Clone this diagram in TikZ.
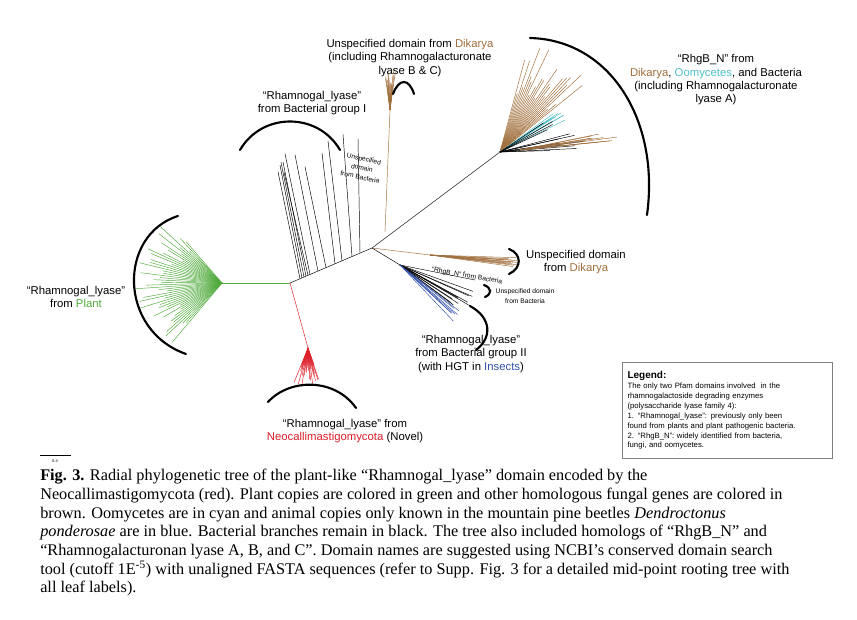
\documentclass[tikz,border=0pt]{standalone}
\usepackage{fontspec}
\setmainfont{Liberation Serif}
\newfontfamily\sansf{Liberation Sans}
\definecolor{plantg}{RGB}{80,170,60}
\definecolor{brn}{RGB}{160,110,60}
\definecolor{cyn}{RGB}{80,190,200}
\definecolor{blu}{RGB}{50,80,170}
\definecolor{redc}{RGB}{220,30,40}
\begin{document}
\begin{tikzpicture}[x=0.75pt,y=-0.75pt,
  lbl/.style={font=\sansf\fontsize{8.5}{10}\selectfont,align=center,inner sep=0pt},
  slbl/.style={font=\sansf\fontsize{5}{7}\selectfont,align=center,inner sep=0pt},
  brk/.style={line width=1.6pt,line cap=round},
  br/.style={line width=0.35pt}]
\useasboundingbox (0,0) rectangle (857,620);
\pgfmathsetseed{7}
\coordinate (root) at (290,283);
\coordinate (hub) at (372,248);
\coordinate (pb) at (222,283);
\coordinate (rb) at (308,348);
\coordinate (tb) at (390,110);
\coordinate (ub) at (500,152);
% plant
\draw[br,plantg] (root) -- (pb);
\foreach \i in {0,...,45}{
  \pgfmathsetmacro\a{130+\i*2.2}
  \pgfmathsetmacro\l{35+38*rnd}
  \pgfmathsetmacro\m{8+10*rnd}
  \draw[br,plantg] (pb) -- ++(\a:\m) -- ++(\a:\l);}
% red
\draw[br,redc] (root) -- (rb);
\foreach \i in {0,...,30}{
  \pgfmathsetmacro\a{70+\i*1.4}
  \pgfmathsetmacro\l{15+25*rnd}
  \draw[br,redc] (rb) -- ++(\a:\l);}
% bacterial group I
\draw[br] (root) -- (hub);
\foreach \s/\e in {300/278,302/280,304/281,306/283,308/284,310/285,318/295,326/305,335/322,342/328,352/343,360/358}{
  \pgfmathsetmacro\sy{283-(\s-290)*35/82}
  \draw[br] (\s,\sy) -- (\e,{\sy-100-25*rnd});}
% top brown
\draw[br,brn] (385,232) -- (tb);
\foreach \i in {0,...,20}{
  \pgfmathsetmacro\a{262+\i*0.8}
  \pgfmathsetmacro\l{15+30*rnd}
  \draw[br,brn] (tb) -- ++(\a:\l);}
% upper right
\draw[br] (hub) -- (ub);
\foreach \i in {0,...,24}{
  \pgfmathsetmacro\a{285+\i*1.5}
  \pgfmathsetmacro\l{60+55*rnd}
  \draw[br,brn] (ub) -- ++(\a:\l);}
\foreach \i in {0,...,8}{
  \pgfmathsetmacro\a{326+\i*0.6}
  \draw[br,cyn] (ub) -- ++(\a:{60+15*rnd});}
\foreach \i in {0,...,12}{
  \pgfmathsetmacro\a{335+\i*2}
  \draw[br] (ub) -- ++(\a:{45+45*rnd});}
\foreach \i in {0,...,8}{
  \draw[br,brn] (520,150) -- ++({350+\i*0.5}:{70+30*rnd});}
% lower right
\coordinate (db) at (430,255);
\draw[br,brn] (hub) -- (db);
\foreach \i in {0,...,12}{\draw[br,brn] (db) -- ++({2+\i*0.5}:{70+20*rnd});}
\coordinate (bb) at (400,265);
\draw[br] (hub) -- (bb);
\draw[br] (bb) -- (475,280);
\foreach \i in {0,...,10}{\draw[br] (bb) -- ++({22+\i*1.5}:{60+25*rnd});}
\foreach \i in {0,...,6}{\draw[br,blu] (bb) -- ++({38+\i*1}:{65+20*rnd});}
% brackets
\draw[brk] (178,216) .. controls (118,235) and (118,330) .. (186,354);
\draw[brk] (240,150) .. controls (262,112) and (318,112) .. (340,150);
\draw[brk] (393,94) .. controls (399,78) and (409,78) .. (414,94);
\draw[brk] (530,38) .. controls (610,40) and (660,120) .. (647,215);
\draw[brk] (509,249) .. controls (522,254) and (522,268) .. (509,274);
\draw[brk] (484,285) .. controls (492,288) and (492,294) .. (485,297);
\draw[brk] (470,306) .. controls (492,318) and (492,338) .. (476,350);
\draw[brk] (268,402) .. controls (290,378) and (335,378) .. (356,408);
% labels
\node[lbl] (lp) at (76,297) {\textquotedblleft Rhamnogal\_lyase\textquotedblright\\from \textcolor{plantg}{Plant}};
\node[lbl] (lr) at (345,431) {\textquotedblleft Rhamnogal\_lyase\textquotedblright\ from\\\textcolor{redc}{Neocallimastigomycota} (Novel)};
\node[lbl] (l2) at (471,354) {\textquotedblleft Rhamnogal\_lyase\textquotedblright\\from Bacterial group II\\(with HGT in \textcolor{blu}{Insects})};
\node[lbl] (lt) at (410,58) {Unspecified domain from \textcolor{brn}{Dikarya}\\(including Rhamnogalacturonate\\lyase B \& C)};
\node[lbl] (l1) at (312,103) {\textquotedblleft Rhamnogal\_lyase\textquotedblright\\from Bacterial group I};
\node[slbl,rotate=-12] (lub) at (362,168) {Unspecified\\domain\\from Bacteria};
\node[lbl] (lrh) at (716,80) {\textquotedblleft RhgB\_N\textquotedblright\ from\\\textcolor{brn}{Dikarya}, \textcolor{cyn}{Oomycetes}, and Bacteria\\(including Rhamnogalacturonate\\lyase A)};
\node[lbl] (ld) at (576,262) {Unspecified domain\\from \textcolor{brn}{Dikarya}};
\node[slbl,rotate=-10] (lrb) at (467,276) {\textquotedblleft RhgB\_N\textquotedblright\ from Bacteria};
\node[slbl] (lub2) at (525,296) {Unspecified domain\\from Bacteria};
% legend
\node[draw=gray,line width=0.8pt,anchor=north west,minimum width=210*0.75pt,minimum height=96*0.75pt,inner sep=3pt,text width=200*0.75pt,align=left,font=\sansf\fontsize{5.8}{7.4}\selectfont] (leg) at (622,362)
{{\fontsize{7.5}{9.5}\selectfont\bfseries Legend:}\\
The only two Pfam domains involved\ \ in the\\rhamnogalactoside degrading enzymes\\(polysaccharide lyase family 4):\\
1. \textquotedblleft Rhamnogal\_lyase\textquotedblright: previously only been\\found from plants and plant pathogenic bacteria.\\
2. \textquotedblleft RhgB\_N\textquotedblright: widely identified from bacteria,\\fungi, and oomycetes.};
% scale
\coordinate (s1) at (40,455); \coordinate (s2) at (71,455);
\draw[br] (s1) -- (s2);
\node[font=\sansf\fontsize{3}{3}\selectfont] (sl) at (55,461) {0.4};
% caption
\node[anchor=north west,inner sep=0pt,align=left,font=\fontsize{12.2}{14}\selectfont] (cap) at (40,469)
{\textbf{Fig. 3.} Radial phylogenetic tree of the plant-like \textquotedblleft Rhamnogal\_lyase\textquotedblright\ domain encoded by the\\
Neocallimastigomycota (red). Plant copies are colored in green and other homologous fungal genes are colored in\\
brown. Oomycetes are in cyan and animal copies only known in the mountain pine beetles \textit{Dendroctonus}\\
\textit{ponderosae} are in blue. Bacterial branches remain in black. The tree also included homologs of \textquotedblleft RhgB\_N\textquotedblright\ and\\
\textquotedblleft Rhamnogalacturonan lyase A, B, and C\textquotedblright. Domain names are suggested using NCBI's conserved domain search\\
tool (cutoff 1E\textsuperscript{-5}) with unaligned FASTA sequences (refer to Supp. Fig. 3 for a detailed mid-point rooting tree with\\
all leaf labels).};
\end{tikzpicture}
\end{document}
